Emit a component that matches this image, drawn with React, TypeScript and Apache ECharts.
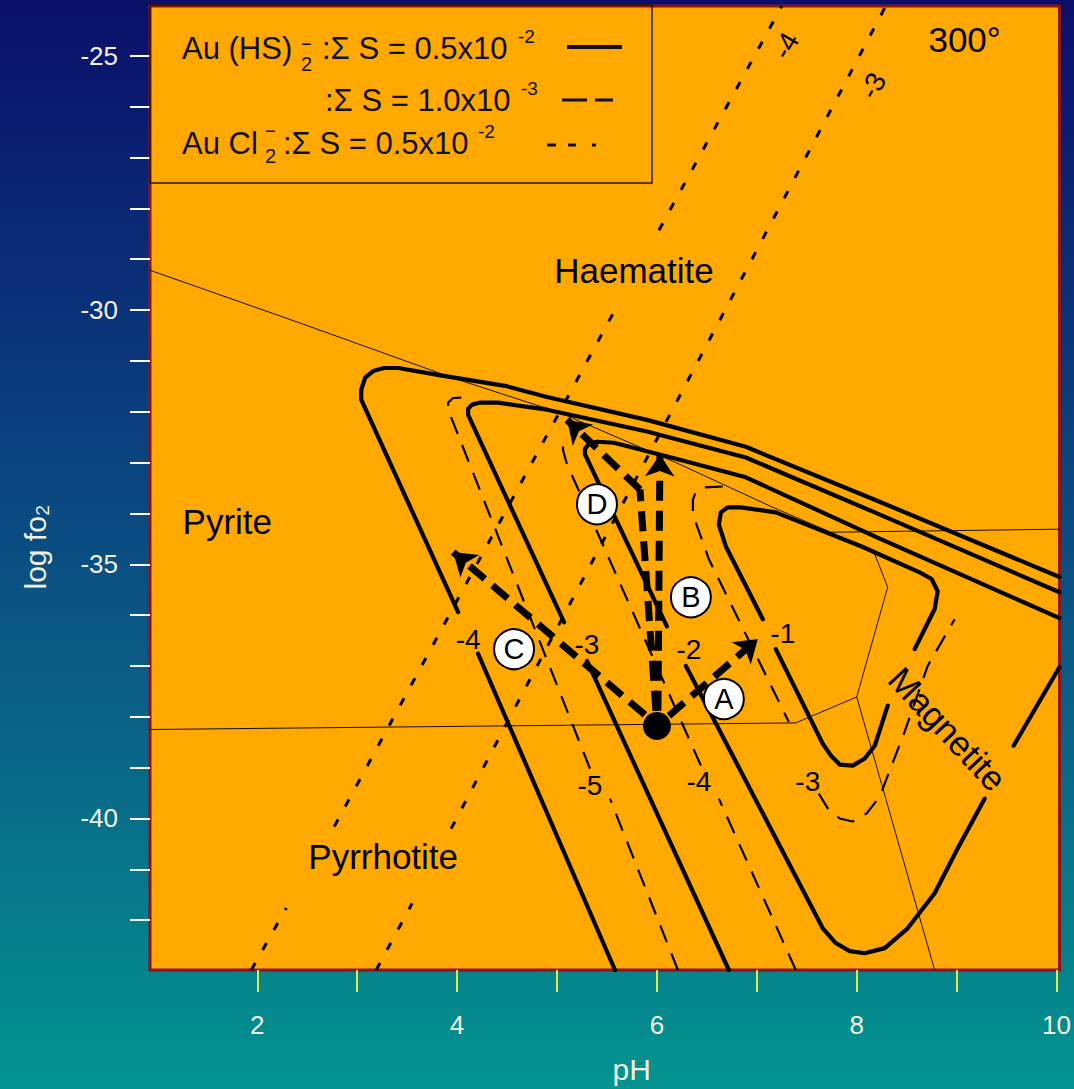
import React, { useEffect, useRef } from "react";
import * as echarts from "echarts";

const FONT = '"Liberation Sans", Arial, Helvetica, sans-serif';

// Axis ticks / labels
const X_TICKS = [2, 3, 4, 5, 6, 7, 8, 9, 10];
const X_LABELS = [2, 4, 6, 8, 10];
const Y_TICKS = [-25, -26, -27, -28, -29, -30, -31, -32, -33, -34, -35, -36, -37, -38, -39, -40, -41, -42];
const Y_LABELS = [-25, -30, -35, -40];

// Au(HS)2- : ΣS = 0.5e-2 contours (solid), pieces split at label gaps
const HS_SOLID_M4 = [
  [[5.58, -42.98], [4.21, -36.76]],
  [[4.01, -35.94], [3.04, -31.76], [3.04, -31.57], [3.08, -31.33], [3.16, -31.2], [3.27, -31.14], [3.41, -31.14], [3.85, -31.29], [4.48, -31.49], [4.9, -31.71], [5.9, -32.16], [6.89, -32.69], [8.18, -33.73], [10.03, -35.25]],
];
const HS_SOLID_M3 = [
  [[6.72, -42.98], [5.3, -36.9]],
  [[5.07, -36.14], [4.11, -32.06], [4.11, -31.94], [4.15, -31.86], [4.23, -31.82], [4.41, -31.82], [4.9, -31.96], [5.9, -32.39], [6.89, -32.9], [8.18, -33.98], [10.03, -35.55]],
];
const HS_SOLID_M2 = [
  [[6.1, -36.22], [5.28, -32.84], [5.28, -32.73], [5.32, -32.63], [5.4, -32.59], [5.57, -32.61], [6.22, -32.94], [6.89, -33.29], [8.18, -34.45], [10.03, -36.06]],
  [[6.29, -37.0], [7.66, -42.16], [7.79, -42.45], [7.93, -42.61], [8.08, -42.65], [8.28, -42.55], [8.51, -42.16], [8.78, -41.47], [9.01, -40.59], [9.28, -39.61]],
  [[9.57, -38.57], [10.03, -37.02]],
];
const HS_SOLID_M1 = [
  [[7.06, -36.08], [6.69, -34.65], [6.62, -34.22], [6.64, -33.98], [6.71, -33.88], [6.84, -33.88], [7.19, -33.98], [8.05, -34.65], [8.63, -35.16], [8.75, -35.29], [8.81, -35.53], [8.78, -35.88], [8.58, -36.67]],
  [[8.31, -37.78], [8.18, -38.57], [8.08, -38.82], [7.96, -38.96], [7.83, -38.94], [7.74, -38.76], [7.66, -38.53], [7.19, -36.67]],
];

// Au(HS)2- : ΣS = 1.0e-3 contours (dashed)
const HS_DASH_M5 = [
  [[6.21, -42.98], [5.53, -39.61]],
  [[5.33, -39.02], [3.91, -31.96], [3.91, -31.82], [3.96, -31.73], [4.14, -31.71]],
];
const HS_DASH_M4 = [
  [[7.39, -42.98], [6.62, -39.61]],
  [[6.44, -38.96], [5.2, -33.47], [5.1, -33.04], [5.06, -32.75], [5.06, -32.55]],
];
const HS_DASH_M3 = [
  [[6.66, -33.47], [6.46, -33.49], [6.39, -33.57], [6.36, -33.73], [6.36, -34.02], [6.52, -34.9], [7.32, -38.1]],
  [[7.62, -39.51], [7.71, -39.8], [7.83, -40.0], [7.96, -40.06], [8.1, -39.9], [8.23, -39.57], [8.48, -38.29], [8.71, -37.0], [8.98, -36.08]],
];

// AuCl2- : ΣS = 0.5e-2 contours (dotted)
const CL_DOT_M4 = [
  [[1.94, -42.98], [2.29, -41.76]],
  [[2.77, -40.16], [5.58, -30.0]],
  [[6.02, -28.43], [7.25, -24.02]],
];
const CL_DOT_M3 = [
  [[3.19, -42.98], [3.55, -41.67]],
  [[3.94, -40.2], [8.29, -24.02]],
];

// Mineral stability boundaries (thin)
const BOUNDARIES = [
  [[0.93, -29.22], [2.42, -30.25], [3.95, -31.33], [5.03, -32.02], [6.19, -33.0], [7.16, -33.88], [7.74, -34.37], [8.18, -34.8], [8.31, -35.45], [8.0, -37.61], [8.78, -42.98]],
  [[0.93, -38.25], [7.39, -38.12], [8.0, -37.61]],
  [[7.74, -34.37], [10.03, -34.31]],
];

// Fluid paths (thick dashed arrows)
const START_POINT = [6.0, -38.18];
const ARROW_PATHS = [
  [[6.12, -37.98], [7.01, -36.47]],
  [[6.01, -37.88], [6.03, -32.84]],
  [[5.88, -37.96], [3.96, -34.76]],
  [[5.83, -33.53], [5.1, -32.16]],
];
const PATH_SEGMENTS = [
  [[5.99, -37.88], [5.83, -33.53]],
];
const PATH_NAMES = [
  { text: "A", x: 6.67, y: -37.65 },
  { text: "B", x: 6.34, y: -35.65 },
  { text: "C", x: 4.57, y: -36.67 },
  { text: "D", x: 5.4, y: -33.82 },
];

// Contour value labels
const CONTOUR_LABELS = [
  { text: "-4", x: 4.11, y: -36.47, rot: 0 },
  { text: "-3", x: 5.3, y: -36.57, rot: 0 },
  { text: "-2", x: 6.32, y: -36.67, rot: 0 },
  { text: "-1", x: 7.26, y: -36.37, rot: 0 },
  { text: "-5", x: 5.33, y: -39.35, rot: 0 },
  { text: "-4", x: 6.42, y: -39.27, rot: 0 },
  { text: "-3", x: 7.51, y: -39.27, rot: 0 },
  { text: "-4", x: 7.29, y: -24.8, rot: 60 },
  { text: "-3", x: 8.16, y: -25.59, rot: 60 },
];

const FIELD_LABELS = [
  { text: "Haematite", x: 5.77, y: -29.22, rot: 0 },
  { text: "Pyrite", x: 1.7, y: -34.16, rot: 0 },
  { text: "Pyrrhotite", x: 3.26, y: -40.75, rot: 0 },
  { text: "Magnetite", x: 8.91, y: -38.24, rot: -47 },
  { text: "300°", x: 9.08, y: -24.67, rot: 0 },
];

function piecesToSeries(pieces: number[][][], lineStyle: any, z: number) {
  return pieces.map((p) => ({
    type: "line",
    data: p,
    showSymbol: false,
    symbol: "none",
    silent: true,
    z,
    lineStyle,
  }));
}

function textEl(text: string, x: number, y: number, size: number) {
  return {
    type: "text",
    x,
    y,
    z: 100,
    style: {
      text,
      fill: "#111",
      fontSize: size,
      fontFamily: FONT,
      align: "left",
      verticalAlign: "middle",
    },
  };
}

function lineEl(x1: number, y1: number, x2: number, y2: number, w: number) {
  return {
    type: "line",
    z: 100,
    shape: { x1, y1, x2, y2 },
    style: { stroke: "#111", lineWidth: w },
  };
}

export default function App() {
  const ref = useRef<HTMLDivElement>(null);
  useEffect(() => {
    const chart = echarts.init(ref.current!, null, { renderer: "svg" });
    const solid = { color: "#000", width: 4.2, cap: "round", join: "round" };
    const dashed = { color: "#000", width: 2.2, type: [18, 12] };
    const dotted = { color: "#000", width: 3, type: [8, 15] };
    const thin = { color: "#1a1000", width: 1 };

    const option: any = {
      animation: false,
      backgroundColor: "transparent",
      grid: {
        left: 150,
        right: 8,
        top: 6,
        bottom: 117,
        show: true,
        backgroundColor: "#FFA800",
        borderColor: "#8B1414",
        borderWidth: 3,
      },
      xAxis: {
        type: "value",
        min: 0.926,
        max: 10.03,
        axisLine: { show: false },
        splitLine: { show: false },
        axisTick: { show: true, customValues: X_TICKS, length: 22, lineStyle: { color: "#E6E64C", width: 2 } },
        axisLabel: { customValues: X_LABELS, color: "#F2F0DC", fontSize: 26, fontFamily: FONT, margin: 42 },
        name: "pH",
        nameLocation: "middle",
        nameGap: 84,
        nameTextStyle: { color: "#F2F0DC", fontSize: 30, fontFamily: FONT, padding: [0, 0, 0, 54] },
      },
      yAxis: {
        type: "value",
        min: -42.98,
        max: -24.02,
        axisLine: { show: false },
        splitLine: { show: false },
        axisTick: { show: true, customValues: Y_TICKS, length: 20, lineStyle: { color: "#FFFFFF", width: 2 } },
        axisLabel: { customValues: Y_LABELS, color: "#F2F0E6", fontSize: 26, fontFamily: FONT, margin: 32 },
        name: "log fo₂",
        nameLocation: "middle",
        nameGap: 100,
        nameRotate: 90,
        nameTextStyle: { color: "#F2F0DC", fontSize: 30, fontFamily: FONT, padding: [0, 118, 0, 0] },
      },
      series: [
        ...piecesToSeries(BOUNDARIES, thin, 2),
        ...piecesToSeries(CL_DOT_M4, dotted, 3),
        ...piecesToSeries(CL_DOT_M3, dotted, 3),
        ...piecesToSeries(HS_DASH_M5, dashed, 3),
        ...piecesToSeries(HS_DASH_M4, dashed, 3),
        ...piecesToSeries(HS_DASH_M3, dashed, 3),
        ...piecesToSeries(HS_SOLID_M4, solid, 4),
        ...piecesToSeries(HS_SOLID_M3, solid, 4),
        ...piecesToSeries(HS_SOLID_M2, solid, 4),
        ...piecesToSeries(HS_SOLID_M1, solid, 4),
        {
          type: "lines",
          coordinateSystem: "cartesian2d",
          data: ARROW_PATHS.map((c) => ({ coords: c })),
          symbol: ["none", "arrow"],
          symbolSize: 22,
          lineStyle: { color: "#000", width: 7, type: [20, 10], opacity: 1 },
          silent: true,
          z: 6,
        },
        {
          type: "lines",
          coordinateSystem: "cartesian2d",
          data: PATH_SEGMENTS.map((c) => ({ coords: c })),
          symbol: ["none", "none"],
          lineStyle: { color: "#000", width: 7, type: [20, 10], opacity: 1 },
          silent: true,
          z: 6,
        },
        {
          type: "scatter",
          data: [START_POINT],
          symbolSize: 28,
          itemStyle: { color: "#000", opacity: 1 },
          silent: true,
          z: 7,
        },
        {
          type: "scatter",
          data: PATH_NAMES.map((p) => ({ value: [p.x, p.y], name: p.text })),
          symbolSize: 40,
          itemStyle: { color: "#FFFFFF", borderColor: "#000", borderWidth: 2, opacity: 1 },
          label: { show: true, position: "inside", formatter: "{b}", color: "#000", fontSize: 29, fontFamily: FONT, opacity: 1 },
          silent: true,
          z: 8,
        },
        {
          type: "scatter",
          data: CONTOUR_LABELS.map((l) => ({ value: [l.x, l.y], name: l.text, label: { rotate: l.rot } })),
          symbolSize: 1,
          itemStyle: { color: "rgba(0,0,0,0)", opacity: 1 },
          label: { show: true, position: "inside", formatter: "{b}", color: "#000", fontSize: 28, fontFamily: FONT, opacity: 1 },
          silent: true,
          z: 5,
        },
        {
          type: "scatter",
          data: FIELD_LABELS.map((l) => ({ value: [l.x, l.y], name: l.text, label: { rotate: l.rot } })),
          symbolSize: 1,
          itemStyle: { color: "rgba(0,0,0,0)", opacity: 1 },
          label: { show: true, position: "inside", formatter: "{b}", color: "#000", fontSize: 35, fontFamily: FONT, opacity: 1 },
          silent: true,
          z: 5,
        },
      ],
      graphic: [
        {
          type: "rect",
          z: 100,
          shape: { x: 150, y: 5, width: 502, height: 178 },
          style: { fill: "none", stroke: "#2a1800", lineWidth: 1.5 },
        },
        textEl("Au (HS)", 182, 48, 31),
        textEl("−", 301, 44, 18),
        textEl("2", 301, 64, 20),
        textEl(":Σ S = 0.5x10", 322, 48, 31),
        textEl("-2", 518, 36, 19),
        lineEl(567, 47, 622, 47, 4),
        textEl(":Σ S = 1.0x10", 325, 100, 31),
        textEl("-3", 521, 88, 19),
        lineEl(562, 100, 587, 100, 3),
        lineEl(595, 100, 613, 100, 3),
        textEl("Au Cl", 182, 143, 31),
        textEl("−", 265, 131, 18),
        textEl("2", 265, 156, 20),
        textEl(":Σ S = 0.5x10", 283, 143, 31),
        textEl("-2", 478, 131, 19),
        lineEl(547, 145, 556, 145, 3),
        lineEl(568, 145, 576, 145, 3),
        lineEl(592, 145, 596, 145, 3),
      ],
    };
    chart.setOption(option);
    return () => chart.dispose();
  }, []);
  return (
    <div
      ref={ref}
      style={{
        position: "fixed",
        left: 0,
        top: 0,
        width: 1074,
        height: 1089,
        background: "linear-gradient(to bottom, #0a0f6a 0%, #0b3a7c 35%, #0a6488 68%, #02948f 100%)",
      }}
    />
  );
}
